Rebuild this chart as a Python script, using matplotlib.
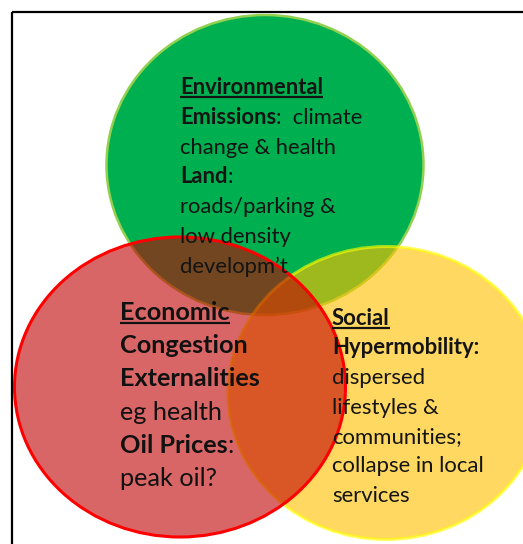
import matplotlib.pyplot as plt
from matplotlib.patches import Ellipse, Rectangle

plt.rcParams['font.family'] = ['Lato', 'DejaVu Sans']

# --- text of the three circles: each line is a list of (text, bold) pieces ---
env_lines = [
    [("Environmental", True)],
    [("Emissions", True), (":  climate", False)],
    [("change & health", False)],
    [("Land", True), (":", False)],
    [("roads/parking &", False)],
    [("low density", False)],
    [("developm\u2019t", False)],
]
eco_lines = [
    [("Economic", True)],
    [("Congestion", True)],
    [("Externalities", True)],
    [("eg health", False)],
    [("Oil Prices", True), (":", False)],
    [("peak oil?", False)],
]
soc_lines = [
    [("Social", True)],
    [("Hypermobility:", True)],
    [("dispersed", False)],
    [("lifestyles &", False)],
    [("communities;", False)],
    [("collapse in local", False)],
    [("services", False)],
]

W, H = 523, 544
fig = plt.figure(figsize=(W / 100, H / 100), dpi=100)
ax = fig.add_axes([0, 0, 1, 1])
ax.set_xlim(0, W)
ax.set_ylim(H, 0)
ax.axis('off')

# frame
ax.add_patch(Rectangle((12, 12), 560, 560, fill=False, ec='black', lw=1.6, zorder=0))

# circles (green at the bottom, then yellow, red on top)
ax.add_patch(Ellipse((265, 165), 317, 300, fc='#00B050', ec='#92D050', lw=1.8, zorder=1))
ax.add_patch(Ellipse((386, 393), 316, 293, fc='#FFC000', ec='#FFFF00', lw=2.2, alpha=0.62, zorder=2))
ax.add_patch(Ellipse((180, 387), 331, 300, fc='#C00000', ec='none', alpha=0.6, zorder=3))
ax.add_patch(Ellipse((180, 387), 331, 300, fill=False, ec='#FF0000', lw=2.2, zorder=3.5))

fig.canvas.draw()
renderer = fig.canvas.get_renderer()
inv = ax.transData.inverted()


def write_block(lines, x0, y0, dy, size, color):
    for i, line in enumerate(lines):
        x = x0
        y = y0 + i * dy
        for txt, bold in line:
            t = ax.text(x, y, txt, fontsize=size, color=color, va='baseline', ha='left',
                        fontweight='bold' if bold else 'normal', zorder=5)
            bb = t.get_window_extent(renderer)
            (xa, _), (xb, _) = inv.transform([[bb.x0, 0], [bb.x1, 0]])
            if i == 0:
                ax.plot([xa, xb], [y + 3, y + 3], color=color, lw=1.6, zorder=5,
                        solid_capstyle='butt')
            x = xb


write_block(env_lines, 180, 94, 29.8, 15.8, '#141414')
write_block(eco_lines, 120, 320, 33.2, 18.2, '#111111')
write_block(soc_lines, 332, 325, 29.5, 15.9, '#141414')

fig.savefig('out.png', dpi=100)
